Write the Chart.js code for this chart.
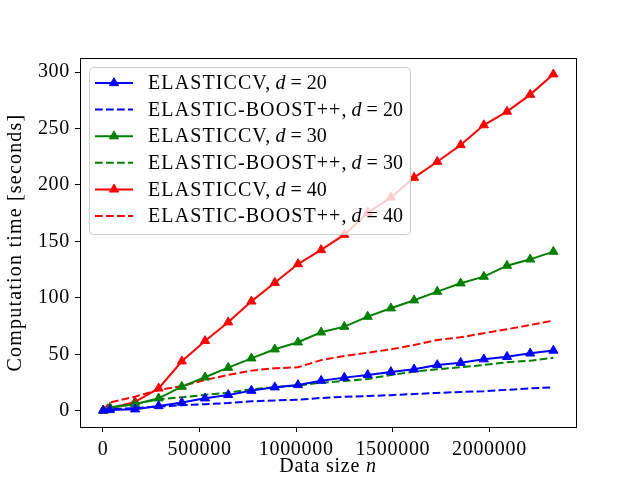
<!DOCTYPE html>
<html>
<head>
<meta charset="utf-8">
<script src="https://cdn.jsdelivr.net/npm/chart.js@4.4.1/dist/chart.umd.min.js"></script>
<style>
  html, body { margin: 0; padding: 0; background: white; }
  canvas { display: block; }
</style>
</head>
<body>
<canvas id="timeChart" width="640" height="480"></canvas>
<script>
// Data
const nValues = [1000, 36000, 166000, 288000, 408000, 528000, 648000, 768000, 889000, 1009000,
    1129000, 1249000, 1370000, 1490000, 1610000, 1730000, 1851000, 1971000, 2091000, 2211000, 2331000];

const cv20    = [0.5, 0.9, 1.5, 4.4, 7.5, 11.2, 14.2, 18, 21, 23, 26.8, 29.5, 31.9, 34.5, 36.9, 40.7, 42.7, 45.8, 48, 51, 53.5];
const boost20 = [0.3, 1.5, 2.6, 3.9, 5, 6, 7, 8.5, 9.3, 10, 11.5, 12.5, 13.2, 14, 15, 16, 16.8, 17.5, 18.7, 20, 21];
const cv30    = [0.3, 3, 6, 11.2, 21.5, 29.8, 38.3, 46.6, 54.6, 60.8, 69.6, 74.6, 83.5, 90.9, 98, 105.6, 113, 118.9, 128.6, 134.2, 141];
const boost30 = [0.5, 3, 6.2, 10.3, 12.1, 14.2, 16.2, 19.2, 21, 22.5, 25, 26.5, 28.3, 31.9, 34.8, 36.9, 38.7, 40.7, 43.1, 44.5, 47];
const cv40    = [0.5, 2.4, 8, 20, 44, 62, 78.5, 97, 113.5, 130, 142.5, 156, 175.5, 189, 206.5, 220.6, 235.4, 253, 265, 280, 298];
const boost40 = [1, 7.5, 12.7, 18.6, 22, 27.4, 31.9, 35.7, 37.8, 38.7, 45, 48.7, 51.6, 54.5, 58.4, 62.8, 65.2, 68.8, 72.3, 76.1, 80];

const methodNames = ["ELASTICCV", "ELASTIC-BOOST++", "ELASTICCV", "ELASTIC-BOOST++", "ELASTICCV", "ELASTIC-BOOST++"];
const dims = [20, 20, 30, 30, 40, 40];

const xTicks = [0, 500000, 1000000, 1500000, 2000000];
const yTicks = [0, 50, 100, 150, 200, 250, 300];

const FONT = "'Liberation Serif', 'DejaVu Serif', serif";
Chart.defaults.font.family = FONT;
Chart.defaults.color = 'black';

function toPoints(ys) {
    return ys.map((y, i) => ({ x: nValues[i], y: y }));
}

/// Matplotlib-like series style
function series(ys, color, dashed, idx) {
    return {
        label: methodNames[idx] + ", d = " + dims[idx],
        data: toPoints(ys),
        borderColor: color,
        backgroundColor: color,
        borderWidth: 2,
        borderDash: dashed ? [7.7, 3.3] : [],
        pointStyle: 'triangle',
        pointRadius: dashed ? 0 : 5.3,
        pointBorderWidth: 1,
        pointHoverRadius: 0,
        tension: 0,
        fill: false
    };
}

/// Draw text made of plain and italic parts
function drawRich(ctx, x, y, parts, size) {
    for (const [txt, italic] of parts) {
        ctx.font = (italic ? 'italic ' : '') + size + 'px ' + FONT;
        ctx.fillText(txt, x, y);
        x += ctx.measureText(txt).width;
    }
    return x;
}

function richWidth(ctx, parts, size) {
    let w = 0;
    for (const [txt, italic] of parts) {
        ctx.font = (italic ? 'italic ' : '') + size + 'px ' + FONT;
        w += ctx.measureText(txt).width;
    }
    return w;
}

const framePlugin = {
    id: 'frame',
    beforeDraw(chart) {
        // widen tick labels a little, closer to the TeX font
        chart.ctx.letterSpacing = '0.7px';
    },
    afterDatasetsDraw(chart) {
        const { ctx, chartArea: a } = chart;
        ctx.save();
        ctx.strokeStyle = 'black';
        ctx.lineWidth = 1;
        ctx.strokeRect(Math.round(a.left) + 0.5, Math.round(a.top) + 0.5,
            Math.round(a.right - a.left), Math.round(a.bottom - a.top));

        // legend box
        const bx = 89.5, by = 67.5, bw = 321, bh = 167, r = 4;
        ctx.beginPath();
        ctx.moveTo(bx + r, by);
        ctx.arcTo(bx + bw, by, bx + bw, by + bh, r);
        ctx.arcTo(bx + bw, by + bh, bx, by + bh, r);
        ctx.arcTo(bx, by + bh, bx, by, r);
        ctx.arcTo(bx, by, bx + bw, by, r);
        ctx.closePath();
        ctx.fillStyle = 'rgba(255,255,255,0.8)';
        ctx.fill();
        ctx.strokeStyle = '#cccccc';
        ctx.stroke();

        ctx.textBaseline = 'middle';
        ctx.textAlign = 'left';
        ctx.fillStyle = 'black';
        chart.data.datasets.forEach((ds, i) => {
            const y = 83 + i * 26.6;
            ctx.save();
            ctx.strokeStyle = ds.borderColor;
            ctx.lineWidth = ds.borderWidth;
            ctx.setLineDash(ds.borderDash);
            ctx.beginPath();
            ctx.moveTo(95, y);
            ctx.lineTo(133, y);
            ctx.stroke();
            ctx.restore();
            if (ds.pointRadius > 0) {
                ctx.fillStyle = ds.backgroundColor;
                ctx.strokeStyle = ds.borderColor;
                ctx.lineWidth = 1;
                Chart.helpers.drawPoint(ctx, { pointStyle: 'triangle', radius: 5.3, borderWidth: 1 }, 114, y);
            }
            ctx.fillStyle = 'black';
            ctx.letterSpacing = '1.1px';
            let x = drawRich(ctx, 148, y + 1, [[methodNames[i] + ",", false]], 20);
            ctx.letterSpacing = '0px';
            x = drawRich(ctx, x + 4, y + 1, [["d", true]], 20);
            x = drawRich(ctx, x + 5, y + 1, [["=", false]], 20);
            drawRich(ctx, x + 5, y + 1, [[String(dims[i]), false]], 20);
            ctx.letterSpacing = '0px';
        });

        // x axis title with italic n
        ctx.letterSpacing = '0.8px';
        const parts = [["Data size ", false], ["n", true]];
        const w = richWidth(ctx, parts, 20);
        drawRich(ctx, (a.left + a.right) / 2 - w / 2, 467, parts, 20);

        // y axis title
        ctx.translate(16, (a.top + a.bottom) / 2);
        ctx.rotate(-Math.PI / 2);
        ctx.textAlign = 'center';
        ctx.font = '20px ' + FONT;
        ctx.letterSpacing = '1.2px';
        ctx.fillText('Computation time [seconds]', 0, 0);
        ctx.restore();
    }
};

const timeChart = new Chart("timeChart", {
    type: "line",
    data: {
        datasets: [
            series(cv20, '#0000ff', false, 0),
            series(boost20, '#0000ff', true, 1),
            series(cv30, '#008000', false, 2),
            series(boost30, '#008000', true, 3),
            series(cv40, '#ff0000', false, 4),
            series(boost40, '#ff0000', true, 5)
        ]
    },
    options: {
        responsive: false,
        animation: false,
        devicePixelRatio: 1,
        layout: { padding: { left: 0, top: 58, right: 64, bottom: 0 } },
        plugins: {
            legend: { display: false },
            tooltip: { enabled: false }
        },
        scales: {
            x: {
                type: 'linear',
                min: -119000,
                max: 2448000,
                afterFit(scale) { scale.height = 53; },
                afterBuildTicks(scale) { scale.ticks = xTicks.map(v => ({ value: v })); },
                grid: { drawOnChartArea: false, drawTicks: true, tickLength: 5, color: 'black' },
                border: { display: true, color: 'black', width: 1 },
                ticks: {
                    padding: 6,
                    maxRotation: 0,
                    font: { size: 20 },
                    color: 'black',
                    callback: v => String(v)
                }
            },
            y: {
                type: 'linear',
                min: -14.2,
                max: 312.4,
                afterFit(scale) { scale.width = 80; },
                afterBuildTicks(scale) { scale.ticks = yTicks.map(v => ({ value: v })); },
                grid: { drawOnChartArea: false, drawTicks: true, tickLength: 5, color: 'black' },
                border: { display: true, color: 'black', width: 1 },
                ticks: {
                    padding: 5,
                    font: { size: 20 },
                    color: 'black',
                    callback: v => String(v)
                }
            }
        }
    },
    plugins: [framePlugin]
});
</script>
</body>
</html>
